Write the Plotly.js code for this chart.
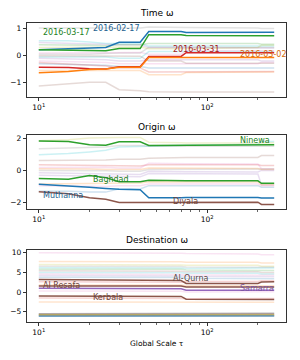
<!DOCTYPE html>
<html><head><meta charset="utf-8">
<script src="https://cdn.plot.ly/plotly-3.0.1.min.js"></script>
<style>html,body{margin:0;padding:0;background:#fff}#c{width:300px;height:360px}</style>
</head><body><div id="c"></div>
<script>
const tau = [10, 15, 20, 25, 30, 40, 45, 70, 75, 200, 210, 250];

// ---- Time omega ----
const time_hl = {
  "2016-02-17": [0.22,0.25,0.28,0.30,0.49,0.49,0.89,0.89,0.85,0.86,0.86,0.86],
  "2016-03-17": [0.22,0.21,0.19,0.18,0.26,0.26,0.77,0.77,0.74,0.74,0.73,0.73],
  "2016-03-31": [-0.43,-0.44,-0.48,-0.49,-0.41,-0.41,-0.03,-0.03,0.11,0.11,0.11,0.11],
  "2016-03-02": [-0.63,-0.58,-0.51,-0.49,-0.43,-0.43,-0.07,-0.07,-0.07,-0.07,-0.07,-0.07]
};
const time_bg = [
  [-1.12,-1.05,-0.98,-0.98,-1.25,-1.29,-1.33,-1.34,-1.34,-1.34,-1.34,-1.34],
  [1.02,1.02,1.02,1.02,1.02,1.02,1.05,1.05,1.03,1.02,1.0,1.0],
  [0.55,0.55,0.5,0.45,0.45,0.45,0.35,0.35,0.35,0.35,0.35,0.35],
  [0.48,0.45,0.42,0.4,0.4,0.4,0.3,0.3,0.3,0.3,0.28,0.28],
  [0.3,0.3,0.3,0.3,0.32,0.32,0.25,0.25,0.25,0.3,0.38,0.38],
  [0.05,0.05,0.05,0.08,0.1,0.1,0.3,0.3,0.3,0.3,0.3,0.3],
  [0.1,0.1,0.12,0.12,0.12,0.12,0.05,0.05,0.18,0.18,0.18,0.18],
  [-0.05,-0.05,-0.05,-0.05,-0.1,-0.1,0.15,0.15,0.15,0.15,0.15,0.15],
  [-0.1,-0.12,-0.15,-0.15,-0.2,-0.2,-0.15,-0.15,-0.15,-0.15,-0.2,-0.2],
  [-0.2,-0.22,-0.25,-0.25,-0.3,-0.3,-0.3,-0.3,-0.3,-0.3,-0.25,-0.25],
  [0.0,0.0,-0.02,-0.02,-0.02,-0.02,-0.2,-0.2,-0.28,-0.28,-0.28,-0.28],
  [-0.3,-0.32,-0.35,-0.35,-0.4,-0.4,-0.45,-0.45,-0.45,-0.45,-0.45,-0.45],
  [-0.55,-0.55,-0.55,-0.55,-0.55,-0.55,-0.7,-0.7,-0.62,-0.62,-0.6,-0.6],
  [-0.25,-0.3,-0.35,-0.38,-0.45,-0.45,-0.6,-0.6,-0.6,-0.6,-0.58,-0.58],
  [0.4,0.4,0.38,0.36,0.4,0.4,0.45,0.45,0.45,0.45,0.42,0.42]
];

// ---- Origin omega ----
const origin_hl = {
  "Ninewa":   [1.83,1.8,1.6,1.57,1.78,1.78,1.55,1.57,1.58,1.6,1.6,1.6],
  "Baghdad":  [-0.5,-0.55,-0.32,-0.45,-0.7,-0.7,-0.62,-0.65,-0.65,-0.65,-0.8,-0.8],
  "Muthanna": [-0.86,-0.95,-1.05,-1.12,-1.17,-1.2,-1.7,-1.7,-1.69,-1.68,-1.72,-1.72],
  "Diyala":   [-1.33,-1.45,-1.7,-1.8,-1.99,-1.99,-1.96,-1.98,-1.98,-1.98,-2.12,-2.12]
};
const origin_bg = [
  [1.85,1.9,2.02,2.05,2.05,2.05,1.75,1.72,1.7,1.7,1.72,1.72],
  [1.35,1.38,1.42,1.45,1.55,1.55,1.5,1.5,1.5,1.5,1.5,1.5],
  [0.98,1.05,1.15,1.25,1.45,1.48,1.52,1.55,1.57,1.62,1.8,1.8],
  [0.62,0.62,0.62,0.65,0.7,0.7,0.75,0.78,0.8,0.8,0.92,0.92],
  [0.35,0.33,0.3,0.3,0.28,0.28,0.35,0.35,0.35,0.35,0.3,0.3],
  [0.18,0.18,0.2,0.2,0.15,0.15,0.45,0.45,0.42,0.4,0.1,0.1],
  [0.1,0.1,0.08,0.05,0.05,0.05,0.15,0.15,0.12,0.12,0.05,0.05],
  [-0.15,-0.18,-0.2,-0.2,-0.25,-0.25,-0.05,-0.05,-0.08,-0.1,0.0,0.0],
  [-0.3,-0.32,-0.35,-0.35,-0.4,-0.4,-0.2,-0.2,-0.22,-0.22,-0.9,-0.9],
  [-0.85,-0.85,-0.82,-0.8,-0.78,-0.78,-0.7,-0.7,-0.7,-0.72,-0.9,-0.9],
  [-1.3,-1.3,-1.35,-1.35,-1.15,-1.15,-0.95,-0.95,-0.95,-0.95,-1.05,-1.05],
  [-0.95,-0.98,-1.0,-1.0,-0.95,-0.95,-0.85,-0.85,-0.85,-0.85,-0.95,-0.95],
  [0.0,0.0,0.0,-0.02,-0.05,-0.05,0.05,0.05,0.05,0.05,0.08,0.08]
];

// ---- Destination omega ----
const dest_hl = {
  "Al-Qurna":  [3.2,3.15,3.1,3.05,3.0,3.0,3.0,2.95,2.2,2.2,2.55,2.6],
  "Al Resafa": [1.55,1.55,1.55,1.55,1.55,1.55,1.55,1.55,1.3,1.3,1.3,1.3],
  "Samarra":   [1.0,1.0,0.95,0.95,0.9,0.9,0.9,0.85,0.45,0.45,0.45,0.45],
  "Kerbala":   [-1.0,-1.0,-1.05,-1.05,-1.1,-1.1,-1.1,-1.1,-1.8,-1.8,-1.85,-1.85]
};
const dest_bg = [
  [10.0,10.0,10.0,10.0,10.0,10.0,9.9,9.9,9.8,9.7,9.5,9.5],
  [7.8,7.8,7.8,7.8,7.8,7.8,7.7,7.7,7.6,7.6,7.4,7.4],
  [7.0,7.0,7.0,7.0,7.0,7.0,6.9,6.9,6.8,6.8,6.6,6.6],
  [6.6,6.6,6.6,6.6,6.5,6.5,6.5,6.5,6.4,6.4,6.3,6.3],
  [6.2,6.2,6.2,6.2,6.2,6.2,6.1,6.1,6.0,6.0,6.1,6.1],
  [5.8,5.8,5.8,5.8,5.8,5.8,5.8,5.8,5.6,5.6,5.5,5.5],
  [5.4,5.4,5.4,5.4,5.4,5.4,5.3,5.3,5.2,5.2,5.0,5.0],
  [5.0,5.0,5.0,5.0,5.0,5.0,4.9,4.9,4.8,4.8,4.6,4.6],
  [4.6,4.6,4.6,4.6,4.6,4.6,4.5,4.5,4.4,4.4,4.3,4.3],
  [4.2,4.2,4.2,4.2,4.2,4.2,4.1,4.1,4.0,4.0,3.9,3.9],
  [3.8,3.8,3.8,3.8,3.8,3.8,3.7,3.7,3.5,3.5,3.4,3.4],
  [2.6,2.6,2.6,2.6,2.6,2.6,2.5,2.5,2.7,2.7,2.9,2.9],
  [1.8,1.8,1.8,1.8,1.8,1.8,1.8,1.8,1.6,1.6,1.6,1.6],
  [0.3,0.3,0.3,0.3,0.3,0.3,0.2,0.2,0.0,0.0,0.1,0.1],
  [-1.5,-1.5,-1.5,-1.5,-1.5,-1.5,-1.6,-1.6,-1.7,-1.7,-1.6,-1.6],
  [-2.5,-2.5,-2.5,-2.5,-2.5,-2.5,-2.5,-2.5,-2.6,-2.6,-2.6,-2.6]
];
const dest_band = [
  [-5.5,-5.5,-5.5,-5.5,-5.5,-5.5,-5.5,-5.5,-5.5,-5.5,-5.4,-5.4],
  [-5.7,-5.7,-5.7,-5.7,-5.7,-5.7,-5.7,-5.7,-5.7,-5.7,-5.6,-5.6],
  [-5.85,-5.85,-5.85,-5.85,-5.85,-5.85,-5.85,-5.85,-5.85,-5.85,-5.8,-5.8],
  [-6.0,-6.0,-6.0,-6.0,-6.0,-6.0,-6.0,-6.0,-6.0,-6.0,-6.0,-6.0],
  [-6.15,-6.15,-6.15,-6.15,-6.15,-6.15,-6.15,-6.15,-6.15,-6.15,-6.1,-6.1]
];

const bgColors1 = ['#8c564b','#7f7f7f','#17becf','#9467bd','#bcbd22','#7f7f7f','#e377c2','#17becf','#9467bd','#e377c2','#8c564b','#1f77b4','#ff7f0e','#d62728','#2ca02c'];
const bgColors2 = ['#bcbd22','#7f7f7f','#17becf','#8c564b','#d62728','#e377c2','#ff7f0e','#9467bd','#9467bd','#ff7f0e','#1f77b4','#e377c2','#7f7f7f'];
const bgColors3 = ['#e377c2','#ff7f0e','#bcbd22','#7f7f7f','#17becf','#2ca02c','#8c564b','#17becf','#e377c2','#9467bd','#1f77b4','#d62728','#ff7f0e','#e377c2','#d62728','#ff7f0e'];
const bandColors = ['#7f7f7f','#8c564b','#bcbd22','#7f7f7f','#1f77b4'];

const hlColors1 = {"2016-02-17":'#1f77b4',"2016-03-17":'#2ca02c',"2016-03-31":'#d62728',"2016-03-02":'#ff7f0e'};
const hlColors2 = {"Ninewa":'#2ca02c',"Baghdad":'#2ca02c',"Muthanna":'#1f77b4',"Diyala":'#8c564b'};
const hlColors3 = {"Al-Qurna":'#8c564b',"Al Resafa":'#8c564b',"Samarra":'#9467bd',"Kerbala":'#8c564b'};
const txtColors1 = {"2016-02-17":'#1d5f8f',"2016-03-17":'#237f23',"2016-03-31":'#a82020',"2016-03-02":'#d46a0c'};
const txtColors2 = {"Ninewa":'#237f23',"Baghdad":'#237f23',"Muthanna":'#1d5f8f',"Diyala":'#6f453c'};
const txtColors3 = {"Al-Qurna":'#5a4a46',"Al Resafa":'#6f453c',"Samarra":'#7a54a0',"Kerbala":'#6f453c'};

// label anchor positions (tau, value)
const labels1 = {"2016-03-17":[10.3,0.85],"2016-02-17":[20.3,0.99],"2016-03-31":[61,0.21],"2016-03-02":[152,0.04]};
const labels2 = {"Ninewa":[152,1.84],"Baghdad":[20.3,-0.58],"Muthanna":[10.3,-1.55],"Diyala":[61,-1.96]};
const labels3 = {"Al-Qurna":[61,3.5],"Al Resafa":[10.3,1.6],"Kerbala":[20.3,-1.35],"Samarra":[152,0.95]};

const traces = [];
function addBg(arr, colors, ax, op){
  arr.forEach((v,i)=>traces.push({x:tau,y:v,xaxis:'x'+ax,yaxis:'y'+ax,mode:'lines',
    line:{color:colors[i%colors.length],width:1.5},opacity:op,hoverinfo:'skip',showlegend:false}));
}
function addHl(obj, colors, ax){
  Object.keys(obj).forEach(k=>traces.push({x:tau,y:obj[k],xaxis:'x'+ax,yaxis:'y'+ax,mode:'lines',
    line:{color:colors[k],width:1.5},showlegend:false,name:k}));
}
addBg(time_bg,bgColors1,'',0.22);
addHl(time_hl,hlColors1,'');
addBg(origin_bg,bgColors2,'2',0.22);
addHl(origin_hl,hlColors2,'2');
addBg(dest_bg,bgColors3,'3',0.2);
addBg(dest_band,bandColors,'3',0.55);
addHl(dest_hl,hlColors3,'3');

const font = {family:'DejaVu Sans', size:7.5, color:'#000'};
const annotations = [];
function addLabels(obj, colors, ax){
  Object.keys(obj).forEach(k=>annotations.push({x:Math.log10(obj[k][0]),y:obj[k][1],xref:'x'+ax,yref:'y'+ax,
    text:k,showarrow:false,xanchor:'left',yanchor:'middle',font:{family:'DejaVu Sans',size:8,color:colors[k]}}));
}
addLabels(labels1,txtColors1,'');
addLabels(labels2,txtColors2,'2');
addLabels(labels3,txtColors3,'3');
const titles = [["Time ω",1-13/360],["Origin ω",1-127/360],["Destination ω",1-240/360]];
titles.forEach(t=>annotations.push({x:0.5,y:t[1],xref:'paper',yref:'paper',text:t[0],showarrow:false,
  xanchor:'center',yanchor:'middle',font:{family:'DejaVu Sans',size:9,color:'#000'}}));
annotations.push({x:0.5,y:1-343/360,xref:'paper',yref:'paper',text:'Global Scale τ',showarrow:false,
  xanchor:'center',yanchor:'middle',font:{family:'DejaVu Sans',size:7.5,color:'#000'}});

const minorVals = [20,30,40,50,60,70,80,90,200];
function xax(anchor){
  return {type:'log',range:[0.93,2.468],anchor:anchor,tickmode:'array',tickvals:[10,100],
    ticktext:['10<sup>1</sup>','10<sup>2</sup>'],ticks:'outside',ticklen:3.5,tickwidth:0.8,tickcolor:'#000',
    showline:true,linecolor:'#000',linewidth:0.8,mirror:true,showgrid:false,zeroline:false,tickfont:font,
    minor:{tickmode:'array',tickvals:minorVals,ticks:'outside',ticklen:2,tickwidth:0.6,tickcolor:'#000',showgrid:false}};
}
function yax(dom,range,vals,anchor){
  return {domain:dom,range:range,anchor:anchor,tickmode:'array',tickvals:vals,ticks:'outside',ticklen:3.5,
    tickwidth:0.8,tickcolor:'#000',showline:true,linecolor:'#000',linewidth:0.8,mirror:true,showgrid:false,
    zeroline:false,tickfont:font};
}
const layout = {
  width:300,height:360,margin:{l:27,r:14,t:0,b:0},paper_bgcolor:'#fff',plot_bgcolor:'#fff',
  showlegend:false,font:font,
  xaxis:xax('y'),xaxis2:xax('y2'),xaxis3:xax('y3'),
  yaxis:yax([1-97/360,1-23/360],[-1.52,1.2],[-1,0,1],'x'),
  yaxis2:yax([1-209/360,1-135/360],[-2.4,2.2],[-2,0,2],'x2'),
  yaxis3:yax([1-322/360,1-250/360],[-7.6,10.7],[-5,0,5,10],'x3'),
  annotations:annotations
};
Plotly.newPlot('c',traces,layout,{staticPlot:true,displayModeBar:false});
</script></body></html>
